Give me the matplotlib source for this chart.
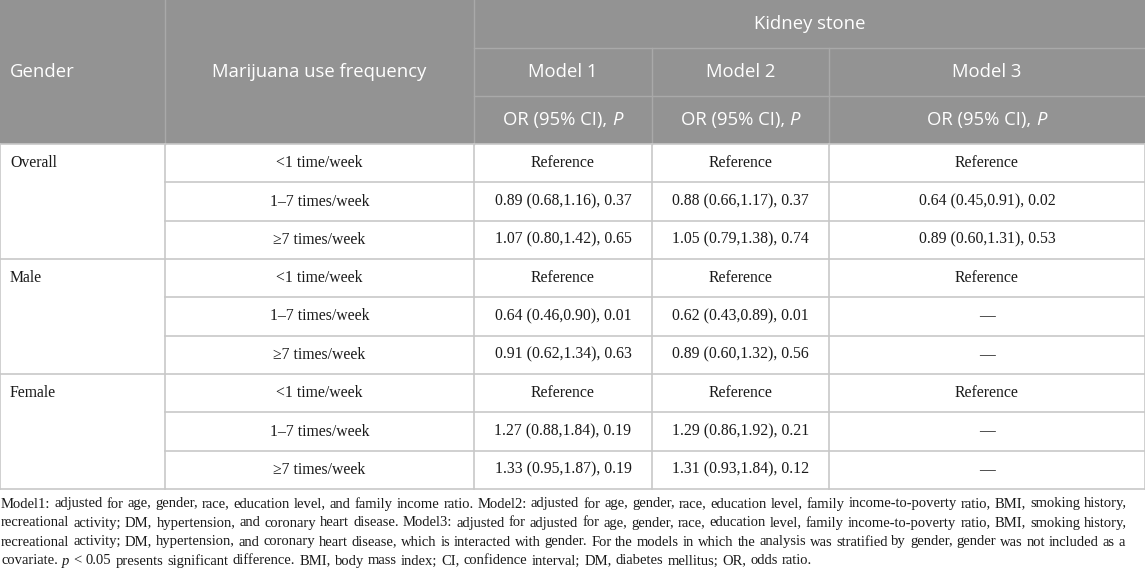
import matplotlib
matplotlib.use("Agg")
import matplotlib.pyplot as plt

# table content
genders = ["Overall", "Male", "Female"]
frequencies = ["<1 time/week", "1\u20137 times/week", "\u22657 times/week"]
model1 = ["Reference", "0.89 (0.68,1.16), 0.37", "1.07 (0.80,1.42), 0.65",
          "Reference", "0.64 (0.46,0.90), 0.01", "0.91 (0.62,1.34), 0.63",
          "Reference", "1.27 (0.88,1.84), 0.19", "1.33 (0.95,1.87), 0.19"]
model2 = ["Reference", "0.88 (0.66,1.17), 0.37", "1.05 (0.79,1.38), 0.74",
          "Reference", "0.62 (0.43,0.89), 0.01", "0.89 (0.60,1.32), 0.56",
          "Reference", "1.29 (0.86,1.92), 0.21", "1.31 (0.93,1.84), 0.12"]
model3 = ["Reference", "0.64 (0.45,0.91), 0.02", "0.89 (0.60,1.31), 0.53",
          "Reference", "\u2014", "\u2014",
          "Reference", "\u2014", "\u2014"]
model_names = ["Model 1", "Model 2", "Model 3"]
outcome = "Kidney stone"

footnote = [
    "Model1: adjusted for age, gender, race, education level, and family income ratio. Model2: adjusted for age, gender, race, education level, family income-to-poverty ratio, BMI, smoking history,",
    "recreational activity; DM, hypertension, and coronary heart disease. Model3: adjusted for adjusted for age, gender, race, education level, family income-to-poverty ratio, BMI, smoking history,",
    "recreational activity; DM, hypertension, and coronary heart disease, which is interacted with gender. For the models in which the analysis was stratified by gender, gender was not included as a",
    "covariate. p < 0.05 presents significant difference. BMI, body mass index; CI, confidence interval; DM, diabetes mellitus; OR, odds ratio.",
]
foot_right = [1127, 1127, 1125, 812]

W, H = 1145, 576
fig = plt.figure(figsize=(W / 100, H / 100), dpi=100)
ax = fig.add_axes([0, 0, 1, 1])
ax.set_xlim(0, W)
ax.set_ylim(H, 0)
ax.axis("off")
renderer = fig.canvas.get_renderer()

HEAD_BG = "#939393"
HEAD_LINE = "#a9a9a9"
GRID = "#c8c8c8"
sans = dict(family="Open Sans", size=13.3, color="white")
serif = dict(family="Liberation Serif", size=11.3, color="#1a1a1a")

col_x = [0, 165, 474, 652, 829, W]
head_y = [0, 48, 96, 144]
body_top, body_bot = 144, 489
n_rows = 9
rh = (body_bot - body_top) / n_rows


def width(s, style):
    t = ax.text(0, 0, s, **style)
    w = t.get_window_extent(renderer).width
    t.remove()
    return w


def runs(x, y, parts, ha="center"):
    ws = [width(s, st) for s, st in parts]
    total = sum(ws)
    if ha == "center":
        x = x - total / 2
    for (s, st), w in zip(parts, ws):
        ax.text(x, y, s, va="center", ha="left", **st)
        x += w


# header background
ax.add_patch(plt.Rectangle((0, 0), W, head_y[-1], color=HEAD_BG, lw=0))
ax.plot([col_x[2], W], [head_y[1]] * 2, color=HEAD_LINE, lw=1)
ax.plot([col_x[2], W], [head_y[2]] * 2, color=HEAD_LINE, lw=1)
for x in col_x[1:3]:
    ax.plot([x, x], [0, head_y[-1]], color=HEAD_LINE, lw=1)
for x in col_x[3:5]:
    ax.plot([x, x], [head_y[1], head_y[-1]], color=HEAD_LINE, lw=1)

ax.text(10, 72, "Gender", va="center", ha="left", **sans)
ax.text((col_x[1] + col_x[2]) / 2, 72, "Marijuana use frequency", va="center", ha="center", **sans)
ax.text((col_x[2] + W) / 2, 24, outcome, va="center", ha="center", **sans)
sans_it = dict(sans, style="italic")
for i, name in enumerate(model_names):
    cx = (col_x[i + 2] + col_x[i + 3]) / 2
    ax.text(cx, 72, name, va="center", ha="center", **sans)
    runs(cx, 120, [("OR (95% CI), ", sans), ("P", sans_it)])

# body grid
for r in range(n_rows + 1):
    y = body_top + r * rh
    x0 = 0 if r % 3 == 0 else col_x[1]
    ax.plot([x0, W], [y, y], color=GRID, lw=1.2)
for x in col_x:
    ax.plot([x, x], [body_top, body_bot], color=GRID, lw=1.2)

# body text
for r in range(n_rows):
    yc = body_top + (r + 0.5) * rh
    if r % 3 == 0:
        ax.text(10, yc, genders[r // 3], va="center", ha="left", **serif)
    ax.text((col_x[1] + col_x[2]) / 2, yc, frequencies[r % 3], va="center", ha="center", **serif)
    for j, vals in enumerate([model1, model2, model3]):
        cx = (col_x[j + 2] + col_x[j + 3]) / 2
        ax.text(cx, yc, vals[r], va="center", ha="center", **serif)

# footnote: pick a size so the first line fits with ordinary spaces, then justify
foot = dict(serif, size=11)
natural = width(footnote[0].replace(" ", "\u00a0"), foot)
foot["size"] = 11 * (foot_right[0] - 1) / natural
foot_it = dict(foot, style="italic")
for k, line in enumerate(footnote):
    y = 504 + k * 19
    words = line.split(" ")
    styles = [foot_it if w == "p" else foot for w in words]
    ws = [width(w, st) for w, st in zip(words, styles)]
    gap = (foot_right[k] - 1 - sum(ws)) / (len(words) - 1)
    x = 1
    for w, st, wd in zip(words, styles, ws):
        ax.text(x, y, w, va="center", ha="left", **st)
        x += wd + gap

fig.savefig("out.png", dpi=100)
